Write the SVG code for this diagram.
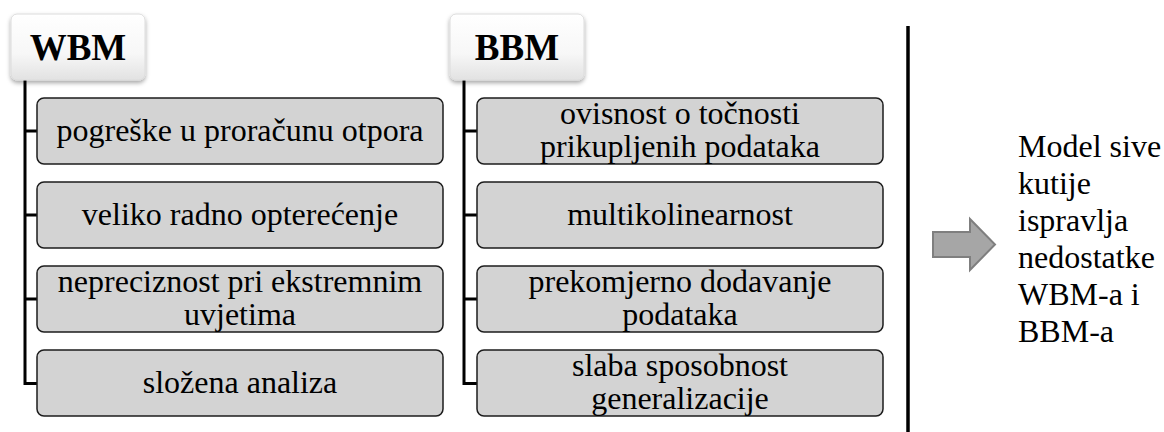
<svg xmlns="http://www.w3.org/2000/svg" width="1164" height="432" viewBox="0 0 1164 432">
<defs>
<linearGradient id="hg" x1="0" y1="0" x2="0" y2="1">
<stop offset="0" stop-color="#ffffff"/>
<stop offset="0.6" stop-color="#f7f7f7"/>
<stop offset="1" stop-color="#e2e2e2"/>
</linearGradient>
<filter id="sh" x="-10%" y="-10%" width="120%" height="130%">
<feDropShadow dx="0" dy="2.5" stdDeviation="2" flood-color="#000" flood-opacity="0.35"/>
</filter>
</defs>
<style>
.hdr{fill:url(#hg);stroke:#dcdcdc;stroke-width:1;filter:url(#sh)}
.box{fill:#d3d3d3;stroke:#1c1c1c;stroke-width:1.5}
.ht{font-family:"Liberation Serif","Times New Roman",serif;font-weight:bold;font-size:37px;fill:#000;text-anchor:middle}
.bt{font-family:"Liberation Serif","Times New Roman",serif;font-size:32px;fill:#000;text-anchor:middle}
.rt{font-family:"Liberation Serif","Times New Roman",serif;font-size:32px;fill:#000}
.ln{fill:none;stroke:#000;stroke-width:3}
</style>
<rect width="1164" height="432" fill="#fff"/>
<g id="connectors">
<path class="ln" d="M25 80 V383.5 H37 M25 131 H37 M25 215 H37 M25 299 H37"/>
<path class="ln" d="M464 80 V383.5 H477 M464 131 H477 M464 215 H477 M464 299 H477"/>
</g>
<g id="wbm">
<rect class="hdr" x="11" y="14" width="134" height="66" rx="6"/>
<text class="ht" x="78" y="60">WBM</text>
</g>
<g id="w1"><rect class="box" x="37" y="98" width="406" height="66" rx="7"/><text class="bt" x="240" y="141">pogreške u proračunu otpora</text></g>
<g id="w2"><rect class="box" x="37" y="182" width="406" height="66" rx="7"/><text class="bt" x="240" y="225">veliko radno opterećenje</text></g>
<g id="w3"><rect class="box" x="37" y="266" width="406" height="66" rx="7"/><text class="bt" x="240" y="292">nepreciznost pri ekstremnim<tspan x="240" dy="33">uvjetima</tspan></text></g>
<g id="w4"><rect class="box" x="37" y="350" width="406" height="66" rx="7"/><text class="bt" x="240" y="393">složena analiza</text></g>
<g id="bbm">
<rect class="hdr" x="450" y="14" width="134" height="66" rx="6"/>
<text class="ht" x="517" y="60">BBM</text>
</g>
<g id="b1"><rect class="box" x="477" y="98" width="406" height="66" rx="7"/><text class="bt" x="680" y="124">ovisnost o točnosti<tspan x="680" dy="33">prikupljenih podataka</tspan></text></g>
<g id="b2"><rect class="box" x="477" y="182" width="406" height="66" rx="7"/><text class="bt" x="680" y="225">multikolinearnost</text></g>
<g id="b3"><rect class="box" x="477" y="266" width="406" height="66" rx="7"/><text class="bt" x="680" y="292">prekomjerno dodavanje<tspan x="680" dy="33">podataka</tspan></text></g>
<g id="b4"><rect class="box" x="477" y="350" width="406" height="66" rx="7"/><text class="bt" x="680" y="376">slaba sposobnost<tspan x="680" dy="33">generalizacije</tspan></text></g>
<g id="divider"><line x1="908" y1="26" x2="908" y2="432" stroke="#000" stroke-width="3.5"/></g>
<g id="arrow"><polygon points="933,232 970,232 970,219 995,244.5 970,270 970,257 933,257" fill="#a6a6a6" stroke="#7f7f7f" stroke-width="2"/></g>
<g id="note">
<text class="rt" x="1018" y="157">Model sive<tspan x="1018" dy="37">kutije</tspan><tspan x="1018" dy="37">ispravlja</tspan><tspan x="1018" dy="37">nedostatke</tspan><tspan x="1018" dy="37">WBM-a i</tspan><tspan x="1018" dy="37">BBM-a</tspan></text>
</g>
</svg>
